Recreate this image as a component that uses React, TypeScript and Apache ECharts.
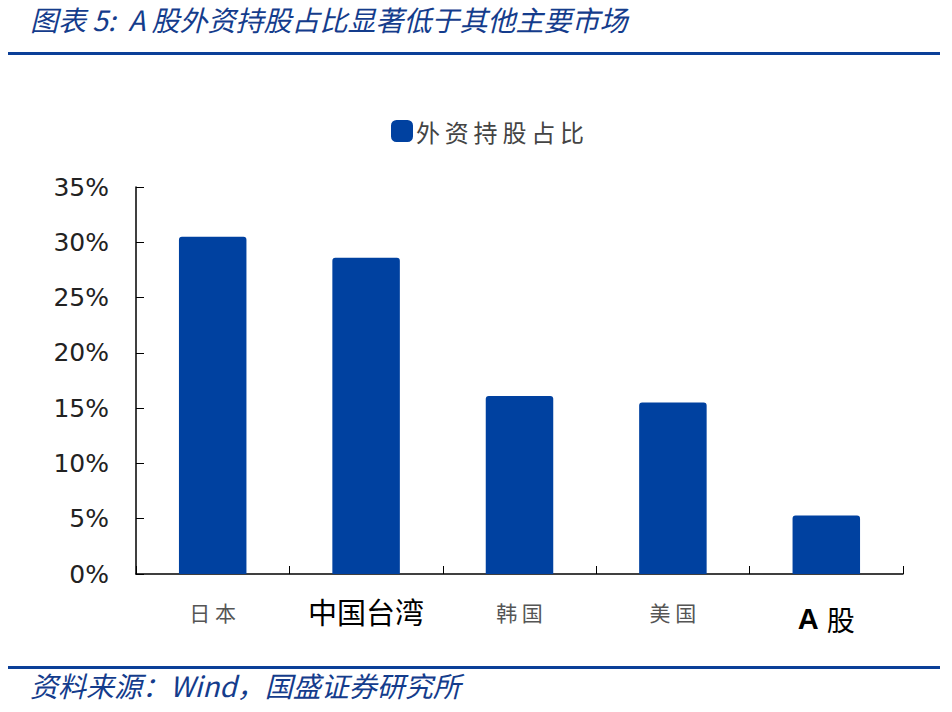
import React, { useEffect, useRef } from "react";
import * as echarts from "echarts";

const categories = ["日本", "中国台湾", "韩国", "美国", "A股"];
const foreignShare = [30.5, 28.6, 16.1, 15.5, 5.3];
const seriesName = "外资持股占比";
const yTicks = [0, 5, 10, 15, 20, 25, 30, 35];
const titleText = "图表 5:  A 股外资持股占比显著低于其他主要市场";
const sourceText = "资料来源：Wind，国盛证券研究所";

const CJK = '"Noto Sans CJK SC", "DejaVu Sans", sans-serif';
const BLUE = "#0041a0";
const DARK_BLUE = "#143c8c";

export default function App() {
  const ref = useRef<HTMLDivElement>(null);
  useEffect(() => {
    if (!ref.current) return;
    const chart = echarts.init(ref.current, null, { renderer: "svg" });
    const fmtCat = (v: string) => {
      if (v === "中国台湾") return `{big|${v}}`;
      if (v === "A股") return `{agA|A}{agB|股}`;
      return `{gray|${v.split("").join(" ")}}`;
    };
    chart.setOption({
      animation: false,
      backgroundColor: "#ffffff",
      graphic: [
        {
          type: "text",
          left: 30,
          top: 5,
          style: {
            text: titleText,
            font: `italic 28px ${CJK}`,
            fill: DARK_BLUE,
          },
        },
        {
          type: "rect",
          shape: { x: 8, y: 52, width: 932, height: 3 },
          style: { fill: "#0b3f98" },
        },
        {
          type: "rect",
          shape: { x: 8, y: 666, width: 932, height: 3 },
          style: { fill: "#0b3f98" },
        },
        {
          type: "text",
          left: 30,
          top: 671,
          style: {
            text: sourceText,
            font: `italic 28px ${CJK}`,
            fill: DARK_BLUE,
          },
        },
      ],
      legend: {
        data: [seriesName],
        top: 114,
        left: 386,
        itemWidth: 22,
        itemHeight: 22,
        icon: "roundRect",
        itemGap: 6,
        formatter: (n: string) => n.split("").join("\u2009"),
        textStyle: {
          fontFamily: CJK,
          fontSize: 24,
          color: "#444444",
          padding: [0, 0, 0, -2],
        },
      },
      grid: {
        left: 136,
        right: 49,
        top: 187,
        bottom: 138,
        containLabel: false,
      },
      xAxis: {
        type: "category",
        data: categories,
        axisLine: { lineStyle: { color: "#000000", width: 1.5 } },
        axisTick: {
          show: true,
          inside: true,
          length: 8,
          alignWithLabel: false,
          lineStyle: { color: "#000000" },
        },
        axisLabel: {
          margin: 22,
          interval: 0,
          formatter: fmtCat,
          rich: {
            gray: { fontFamily: CJK, fontSize: 21, color: "#555555", padding: [6, 0, 0, 0] },
            big: { fontFamily: CJK, fontSize: 29, color: "#000000", padding: [0, 0, 0, 0] },
            agA: { fontFamily: '"Liberation Sans", Arial, sans-serif', fontSize: 29, fontWeight: "bold", color: "#000000", padding: [8, 8, 0, 0] },
            agB: { fontFamily: CJK, fontSize: 28, color: "#000000", padding: [8, 0, 0, 0] },
          },
        },
      },
      yAxis: {
        type: "value",
        min: 0,
        max: 35,
        interval: 5,
        splitLine: { show: false },
        axisLine: { show: true, lineStyle: { color: "#000000", width: 1.5 } },
        axisTick: { show: true, inside: true, length: 8, lineStyle: { color: "#000000" } },
        axisLabel: {
          margin: 27,
          fontFamily: '"DejaVu Sans", sans-serif',
          fontSize: 25,
          color: "#222222",
          formatter: (v: number) => (yTicks.includes(v) ? `${v}%` : ""),
        },
      },
      series: [
        {
          name: seriesName,
          type: "bar",
          data: foreignShare,
          barWidth: "44%",
          itemStyle: { color: BLUE, borderRadius: [3, 3, 0, 0] },
        },
      ],
    });
    return () => chart.dispose();
  }, []);
  return <div ref={ref} style={{ width: 952, height: 712, position: "absolute", left: 0, top: 0 }} />;
}
